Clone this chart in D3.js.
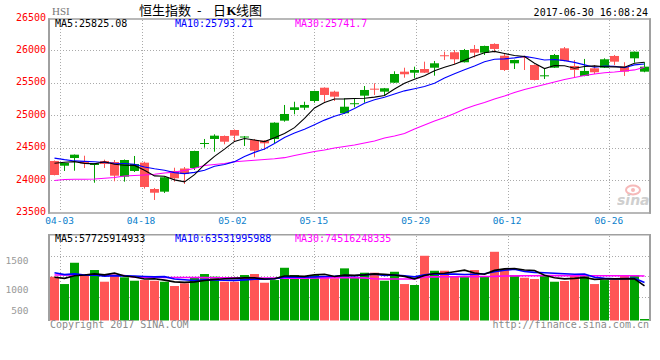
<!DOCTYPE html>
<html><head><meta charset="utf-8">
<script src="https://cdn.jsdelivr.net/npm/d3@7"></script>
<style>body{margin:0;background:#fff}svg{display:block}</style>
</head><body><svg id="c" width="660" height="360"></svg>
<script>
const dates = ["03-31","04-03","04-05","04-06","04-07","04-10","04-11","04-12","04-13","04-18","04-19","04-20","04-21","04-24","04-25","04-26","04-27","04-28","05-02","05-04","05-05","05-08","05-09","05-10","05-11","05-12","05-15","05-16","05-17","05-18","05-19","05-22","05-23","05-24","05-25","05-26","05-29","05-31","06-01","06-02","06-05","06-06","06-07","06-08","06-09","06-12","06-13","06-14","06-15","06-16","06-19","06-20","06-21","06-22","06-23","06-26","06-27","06-28","06-29","06-30"];
const open  = [24297,24224,24343,24297,24235,24297,24281,24055,24143,24271,23865,23824,24143,24181,24189,24565,24636,24682,24774,24667,24620,24610,24636,24918,25083,25118,25221,25426,25365,25032,25181,25303,25411,25365,25503,25673,25657,25714,25734,25926,25972,25818,26023,25966,26100,25919,25802,25904,25776,25607,25734,26033,25761,25607,25725,25734,25915,25750,25879,25673];
const high  = [24305,24271,24397,24378,24266,24317,24312,24320,24374,24286,23881,24055,24193,24204,24455,24636,24708,24690,24782,24682,24636,24620,24893,25160,25210,25210,25380,25432,25380,25263,25263,25452,25494,25422,25679,25734,25750,25827,25838,25981,26007,26023,26084,26074,26110,25956,25858,25919,25784,25725,25946,26053,25853,25869,25776,25879,25930,25818,25984,25818];
const low   = [24075,24143,24147,24189,23962,24189,23984,23978,24127,23870,23696,23804,23978,23942,24158,24502,24440,24554,24594,24528,24354,24466,24569,24902,25016,25083,25195,25210,25221,25021,25124,25195,25314,25303,25500,25580,25571,25653,25611,25853,25791,25815,25889,25930,25972,25684,25714,25699,25537,25560,25730,25833,25580,25602,25637,25730,25776,25607,25812,25664];
const close = [24081,24266,24394,24258,24261,24250,24070,24312,24250,23896,23808,24046,24030,24096,24451,24574,24687,24594,24687,24674,24455,24569,24887,25021,25124,25160,25375,25314,25288,25133,25187,25391,25402,25417,25637,25633,25699,25657,25802,25915,25864,26007,25966,26069,26023,25699,25853,25889,25545,25617,25930,25838,25699,25684,25664,25864,25827,25673,25981,25750];
const prevClose = [24502,24594,24321,24327,24358,24193,24345,24392,24301];
const ma30 = [23996,24012,24015,24015,24019,24030,24042,24066,24073,24081,24092,24112,24125,24150,24185,24227,24243,24258,24286,24297,24307,24320,24332,24348,24381,24412,24443,24466,24497,24520,24543,24574,24605,24651,24682,24720,24790,24851,24913,24967,25029,25098,25152,25198,25252,25298,25352,25399,25437,25476,25514,25553,25583,25614,25637,25656,25668,25684,25700,25742];
// turnover, billions HKD
const volume = [73.4,61.1,96.8,75.0,84.6,65.0,75.7,72.4,66.7,67.8,66.7,65.0,57.8,62.3,71.7,77.9,73.4,65.0,65.0,76.2,77.9,63.3,67.8,88.4,76.2,74.5,76.2,71.7,70.7,87.4,72.4,80.1,80.1,66.7,81.7,61.1,59.5,108.5,83.4,83.4,73.4,73.4,84.6,73.4,115.2,86.3,76.2,71.7,69.5,76.2,65.0,66.2,76.2,76.2,61.1,67.8,67.8,76.2,76.2,2.5];
const prevVolume = [92,85,95,80,86,70,75,68,75.6];
const volMa30 = [76.2,76.2,76.0,76.0,75.8,75.8,75.6,75.4,72.6,72.4,72.4,72.2,72.2,72.0,72.0,71.8,71.6,71.6,71.4,71.4,71.2,71.2,71.2,71.0,71.0,71.0,71.2,71.4,71.6,71.8,71.6,71.4,70.0,69.6,69.5,69.5,69.8,73.0,73.2,73.4,73.4,73.6,73.6,73.8,74.0,74.6,74.8,75.0,75.0,75.2,75.2,75.2,75.0,75.0,75.0,75.0,75.0,75.0,75.0,74.5];
const yTicks = [23500,24000,24500,25000,25500,26000,26500];
const xTicks = ["04-03","04-18","05-02","05-15","05-29","06-12","06-26"];
const volTickLabels = [1500,1000,500];
const volGrid = [108,74,40];
const maText = ["MA5:25825.08","MA10:25793.21","MA30:25741.7"];
const volMaText = ["MA5:57725914933","MA10:63531995988","MA30:74516248335"];

const RED = "#ff5555", GREEN = "#00a300";
const mono = "'DejaVu Sans Mono', monospace";
const svg = d3.select("#c");

const x = d3.scaleBand().domain(dates).range([50,650]);
const xg = d3.scalePoint().domain(dates).range([50,650]);
const y = d3.scaleLinear().domain([23500,26500]).range([212.7,18]);
const yv = d3.scaleLinear().domain([0,145]).range([320.5,234]);
const yl = d3.scaleLinear().domain([500,1000,1500]).range([313.5,293.3,264]);

function movingAvg(prev, vals, n){
  const all = prev.concat(vals);
  return vals.map((_,i)=> d3.mean(all.slice(i+prev.length-n+1, i+prev.length+1)));
}
const ma5 = movingAvg(prevClose, close, 5), ma10 = movingAvg(prevClose, close, 10);
const vma5 = movingAvg(prevVolume, volume, 5), vma10 = movingAvg(prevVolume, volume, 10);
const up = i => close[i] >= open[i];

// grid
const grid = svg.append("g").attr("stroke","#aaa").attr("stroke-width",1).attr("stroke-dasharray","1,2");
yTicks.slice(1,-1).forEach(t=>{
  const yy = Math.round(y(t))+0.5;
  grid.append("line").attr("x1",51).attr("x2",649).attr("y1",yy).attr("y2",yy);
});
volGrid.forEach(t=>{
  const yy = Math.round(yv(t))+0.5;
  grid.append("line").attr("x1",51).attr("x2",649).attr("y1",yy).attr("y2",yy);
});
xTicks.forEach(t=>{
  const xx = Math.round(xg(t))+0.5;
  grid.append("line").attr("x1",xx).attr("x2",xx).attr("y1",20).attr("y2",212);
  grid.append("line").attr("x1",xx).attr("x2",xx).attr("y1",236).attr("y2",320);
});

// frames
const fr = svg.append("g").attr("stroke","#a0a0a0").attr("fill","none");
fr.append("line").attr("x1",49).attr("x2",49).attr("y1",18.5).attr("y2",213.7).attr("stroke-width",2);
fr.append("line").attr("x1",650).attr("x2",650).attr("y1",18.5).attr("y2",213.7).attr("stroke-width",2);
fr.append("line").attr("x1",48).attr("x2",651).attr("y1",19).attr("y2",19).attr("stroke-width",1.5);
fr.append("line").attr("x1",48).attr("x2",651).attr("y1",213).attr("y2",213).attr("stroke-width",1.5);
fr.append("line").attr("x1",49).attr("x2",49).attr("y1",234).attr("y2",321).attr("stroke-width",2);
fr.append("line").attr("x1",650).attr("x2",650).attr("y1",234).attr("y2",321).attr("stroke-width",2);
fr.append("line").attr("x1",48).attr("x2",651).attr("y1",234.7).attr("y2",234.7).attr("stroke-width",1.5);

// sina watermark
const wm = svg.append("g").attr("opacity",0.55);
wm.append("ellipse").attr("cx",633).attr("cy",190).attr("rx",7).attr("ry",4.5).attr("fill","none").attr("stroke","#f08080").attr("stroke-width",2);
wm.append("circle").attr("cx",633).attr("cy",190).attr("r",2).attr("fill","#f08080");
wm.append("text").attr("x",617).attr("y",205).attr("font-family","'DejaVu Sans', sans-serif").attr("font-size",14).attr("font-weight","bold").attr("font-style","italic").attr("fill","#a8a8a8").text("sina");

// candles
const cg = svg.append("g");
dates.forEach((d,i)=>{
  const col = up(i) ? GREEN : RED;
  const bx = x(d);
  cg.append("line").attr("x1",bx+4.5).attr("x2",bx+4.5).attr("y1",y(high[i])).attr("y2",y(low[i])).attr("stroke",col).attr("stroke-width",1);
  const t = y(Math.max(open[i],close[i])), b = y(Math.min(open[i],close[i]));
  cg.append("rect").attr("x",bx).attr("width",9).attr("y",t).attr("height",Math.max(1,b-t)).attr("fill",col);
});

// volume bars
const vg = svg.append("g");
dates.forEach((d,i)=>{
  vg.append("rect").attr("x",x(d)).attr("width",9).attr("y",yv(volume[i])).attr("height",yv(0)-yv(volume[i])).attr("fill",up(i)?GREEN:RED);
});

// MA lines
const lineM = d3.line().x((d,i)=>x(dates[i])+4.5).y(d=>y(d));
const lineV = d3.line().x((d,i)=>x(dates[i])+4.5).y(d=>yv(d));
[[ma30,"#ff00ff"],[ma10,"#0000ff"],[ma5,"#000"]].forEach(([s,c])=>{
  svg.append("path").attr("d",lineM(s)).attr("fill","none").attr("stroke",c).attr("stroke-width",1.1);
});
[[volMa30,"#ff00ff"],[vma10,"#0000ff"],[vma5,"#000"]].forEach(([s,c])=>{
  svg.append("path").attr("d",lineV(s)).attr("fill","none").attr("stroke",c).attr("stroke-width",1.6);
});

// axis labels
const tx = svg.append("g").attr("font-family",mono);
yTicks.forEach(t=>{
  tx.append("text").attr("x",46).attr("y",y(t)+2.5).attr("text-anchor","end").attr("font-size",10).attr("fill","#ff0000").text(t);
});
xTicks.forEach(t=>{
  tx.append("text").attr("x",xg(t)-0.5).attr("y",224).attr("text-anchor","middle").attr("font-size",9.5).attr("fill","#0a80cc").text(t);
});
volTickLabels.forEach(t=>{
  tx.append("text").attr("x",28.5).attr("y",yl(t)).attr("text-anchor","end").attr("font-size",9.5).attr("fill","#999").text(t);
});
const maCols = ["#000","#0000ff","#ff00ff"], maX = [55,175,295];
maText.forEach((t,i)=> tx.append("text").attr("x",maX[i]).attr("y",27.3).attr("font-size",10).attr("fill",maCols[i]).text(t));
volMaText.forEach((t,i)=> tx.append("text").attr("x",maX[i]).attr("y",242.3).attr("font-size",10).attr("fill",maCols[i]).text(t));
tx.append("text").attr("x",648).attr("y",15.5).attr("text-anchor","end").attr("font-size",10).attr("fill","#000").text("2017-06-30 16:08:24");
tx.append("text").attr("x",50).attr("y",327.5).attr("font-size",10).attr("fill","#8a8a8a").text("Copyright 2017 SINA.COM");
tx.append("text").attr("x",649).attr("y",327.5).attr("text-anchor","end").attr("font-size",10).attr("fill","#8a8a8a").text("http://finance.sina.com.cn");

// title
svg.append("text").attr("x",52).attr("y",15).attr("font-family","'Liberation Serif', serif").attr("font-size",11).attr("fill","#777").text("HSI");
const title = svg.append("text").attr("y",15).attr("font-family","'Noto Sans CJK SC', sans-serif").attr("font-size",13).attr("fill","#000");
title.append("tspan").attr("x",139).text("恒生指数");
title.append("tspan").attr("x",197).text("-");
title.append("tspan").attr("x",213).text("日");
title.append("tspan").attr("x",226.5).attr("font-weight","bold").attr("font-family","'Liberation Serif', serif").text("K");
title.append("tspan").attr("x",236).text("线图");
</script></body></html>
